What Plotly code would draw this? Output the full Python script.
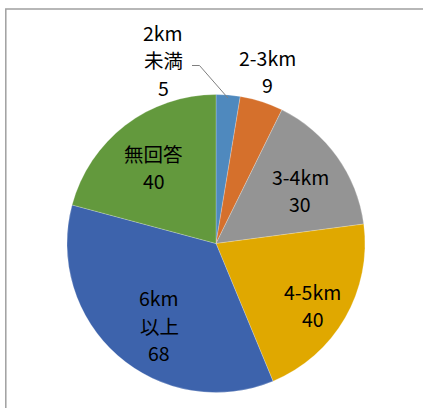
import math
import plotly.graph_objects as go

# Distance categories and respondent counts
labels = ["2km<br>未満", "2-3km", "3-4km", "4-5km", "6km<br>以上", "無回答"]
label_lines = [["2km", "未満"], ["2-3km"], ["3-4km"], ["4-5km"], ["6km", "以上"], ["無回答"]]
values = [5, 9, 30, 40, 68, 40]
colors = ["#4F89BE", "#D5702C", "#949494", "#E0A800", "#3D63AC", "#63993D"]

# Label placement: radial fraction of the pie radius and angular shift (deg)
label_radius = [1.265, 1.19, 0.66, 0.77, 0.67, 0.65]
label_shift = [-20.9, -1.2, 4.0, 3.0, -7.0, -2.0]

W, H = 423, 408
CX, CY, R = 216, 243.5, 149
FONT = "Noto Sans CJK JP, Noto Sans, sans-serif"
FS = 19.5
LINE_H = 27.5

fig = go.Figure(go.Pie(
    labels=labels,
    values=values,
    sort=False,
    direction="clockwise",
    rotation=0,
    marker=dict(colors=colors, line=dict(color="rgba(255,255,255,0.45)", width=0.5)),
    textinfo="none",
    hoverinfo="label+value",
    showlegend=False,
    domain=dict(x=[(CX - R) / W, (CX + R) / W], y=[(H - CY - R) / H, (H - CY + R) / H]),
))

def px(x, y):
    return x / W, 1 - y / H

total = sum(values)
annotations = []
cum = 0
mids = []
for i, v in enumerate(values):
    mid = (cum + v / 2) / total * 360
    mids.append(mid)
    cum += v
    ang = math.radians(mid + label_shift[i])
    lx = CX + label_radius[i] * 150 * math.sin(ang)
    ly = 242 - label_radius[i] * 150 * math.cos(ang)
    lines = label_lines[i] + [str(v)]
    n = len(lines)
    for j, t in enumerate(lines):
        yy = ly + (j - (n - 1) / 2) * LINE_H
        ax, ay = px(lx, yy)
        annotations.append(dict(
            x=ax, y=ay, xref="paper", yref="paper", text=t, showarrow=False,
            xanchor="center", yanchor="middle",
            font=dict(family=FONT, size=FS, color="#000000"),
        ))

# Leader line for the smallest slice
a0 = math.radians(mids[0])
ex = CX + (R - 3) * math.sin(a0)
ey = CY - (R - 3) * math.cos(a0)
sx, sy = 192, 65.5
kx = 199.5
p = [px(sx, sy), px(kx, sy), px(ex, ey)]
path = "M {} {} L {} {} L {} {}".format(p[0][0], p[0][1], p[1][0], p[1][1], p[2][0], p[2][1])

shapes = [
    dict(type="path", path=path, xref="paper", yref="paper",
         line=dict(color="#7f7f7f", width=1)),
    dict(type="rect", xref="paper", yref="paper",
         x0=5.8 / W, y0=-0.05, x1=1.05, y1=1 - 9 / H,
         line=dict(color="#a0a0a0", width=1.5), fillcolor="rgba(0,0,0,0)"),
]

fig.update_layout(
    width=W, height=H,
    margin=dict(l=0, r=0, t=0, b=0),
    paper_bgcolor="white", plot_bgcolor="white",
    annotations=annotations,
    shapes=shapes,
)

fig.write_html("out.html")
